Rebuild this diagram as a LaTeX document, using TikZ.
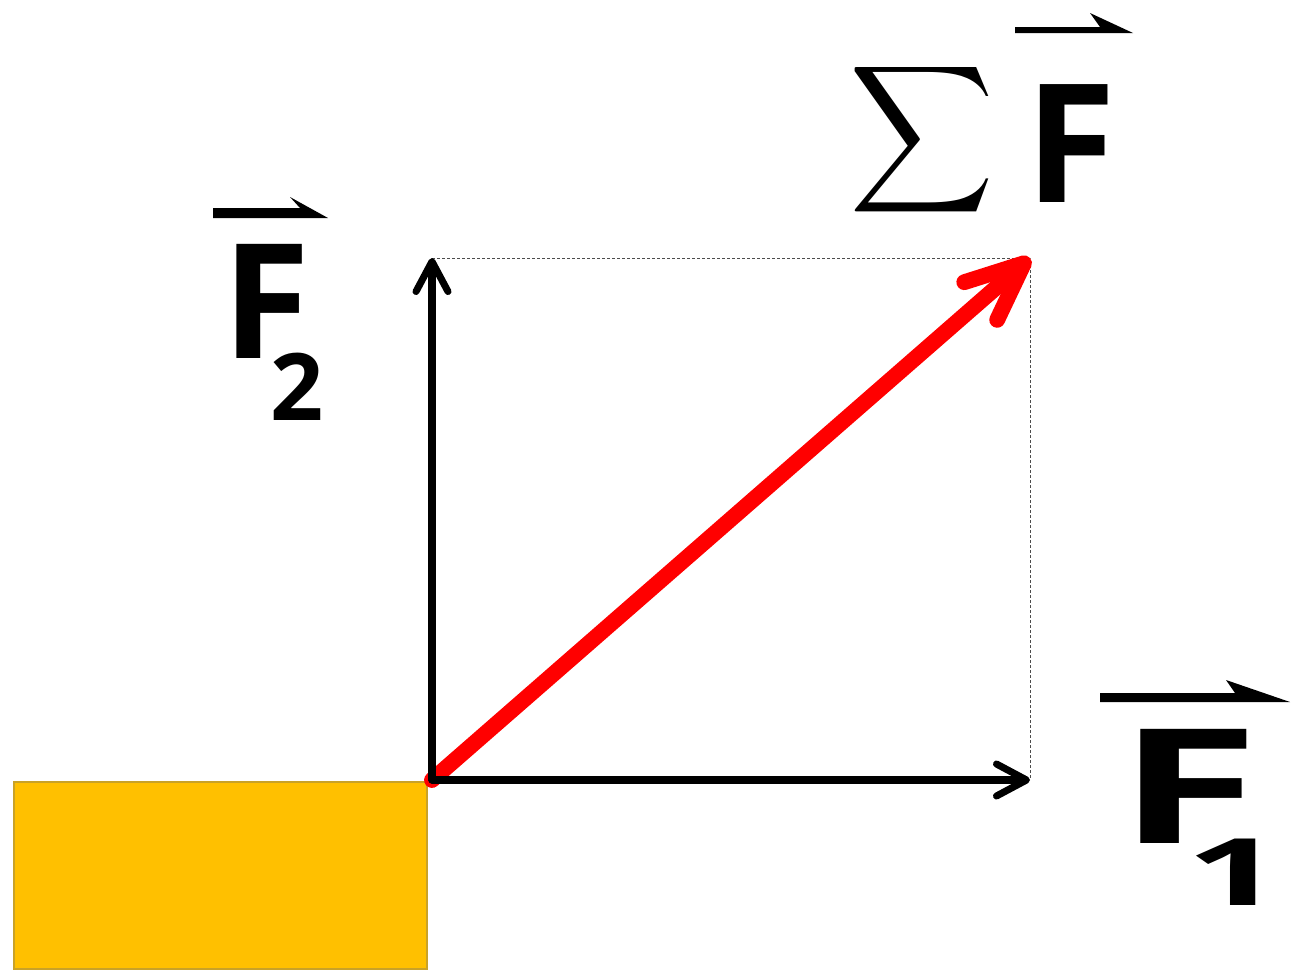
\documentclass[tikz,border=0pt]{standalone}
\usepackage{fontspec}
\usepackage{graphicx}
\usetikzlibrary{arrows.meta}
\newfontfamily\lblfont{Open Sans}
\definecolor{blockfill}{HTML}{FFC000}
\definecolor{blockedge}{HTML}{C9A227}
\definecolor{resultant}{HTML}{FF0000}

\begin{document}
\begin{tikzpicture}[
  x=0.2mm,y=-0.2mm,
  big/.style={inner sep=0,outer sep=0,anchor=base west,
              font={\lblfont\bfseries\fontsize{91}{91}\selectfont}},
  sub/.style={inner sep=0,outer sep=0,anchor=base west,
              font={\lblfont\bfseries\fontsize{53}{53}\selectfont}},
  force/.style={line width=4pt,line cap=round,
                -{Straight Barb[length=6mm,width=6.4mm,round]}},
  net/.style={draw=resultant,line width=9pt,line cap=round,
              -{Straight Barb[length=11.5mm,width=10mm,round]}},
  guide/.style={draw=black!70,line width=0.2mm,dash pattern=on 0.6mm off 0.4mm},
  block/.style={draw=blockedge,fill=blockfill,line width=0.4mm,
                minimum width=82.6mm,minimum height=37.4mm,inner sep=0}
]
\useasboundingbox (0,0) rectangle (1292,971);
% points of the parallelogram
\coordinate (O) at (432,780);
\coordinate (A1) at (1030,780);
\coordinate (A2) at (432,258);
\coordinate (R) at (1030,258);
\node[block] (box) at (220.5,875.5) {};
\draw[guide] (A2) -- (R) -- (A1);
\draw[net] (O) -- (R);
\draw[force] (O) -- (A1);
\draw[force] (O) -- (A2);
% labels
\node[big] (f2) at (222,358) {F};
\node[sub] (f2sub) at (270,420) {2};
\fill (213,208) -- (300,208) -- (290,197) -- (328,218) -- (213,218) -- cycle;
\node[big] (f1) at (1117,843) {\scalebox{1.62}[1]{F}};
\node[sub] (f1sub) at (1186,905) {\scalebox{1.8}[1]{1}};
\fill (1100,693) -- (1235,693) -- (1226,680) -- (1290,702) -- (1100,702) -- cycle;
\node[inner sep=0,outer sep=0,anchor=south west] (sum) at (849,222)
  {\resizebox*{29mm}{33mm}{$\displaystyle\sum$}};
\node[big,font={\lblfont\bfseries\fontsize{94}{94}\selectfont}] (fsum) at (1025,202) {F};
\fill (1015,27) -- (1100,27) -- (1090,13) -- (1133,33) -- (1015,33) -- cycle;
\end{tikzpicture}
\end{document}
